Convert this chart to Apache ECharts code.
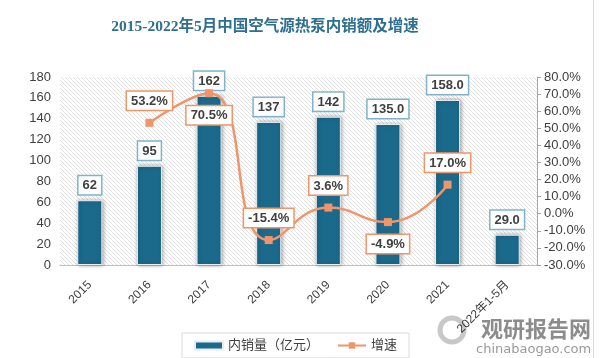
<!DOCTYPE html>
<html>
<head>
<meta charset="utf-8">
<script src="https://cdn.jsdelivr.net/npm/echarts@6/dist/echarts.min.js"></script>
<style>
html,body{margin:0;padding:0;background:#fff;}
#main{width:600px;height:358px;}
</style>
</head>
<body>
<div id="main"></div>
<script>
const categories = ['2015','2016','2017','2018','2019','2020','2021','2022年1-5月'];
const salesValues = [62, 95, 162, 137, 142, 135, 158, 29];
const salesLabels = ['62','95','162','137','142','135.0','158.0','29.0'];
const growthValues = [null, 53.2, 70.5, -15.4, 3.6, -4.9, 17.0, null];
const growthLabelPos = [null, 'top', 'bottom', 'top', 'top', 'bottom', 'top', null];

// hatch pattern
const pc = document.createElement('canvas');
pc.width = 4; pc.height = 4;
const ctx = pc.getContext('2d');
ctx.fillStyle = '#ffffff';
ctx.fillRect(0,0,4,4);
ctx.strokeStyle = '#e2e2e2';
ctx.lineWidth = 1;
for (const k of [-4, 0, 4]) {
  ctx.beginPath(); ctx.moveTo(k, 0); ctx.lineTo(k + 4, 4); ctx.stroke();
}

const chart = echarts.init(document.getElementById('main'));
const barColor = '#1b6a8c';
const lineColor = '#f0946a';

chart.setOption({
  animation: false,
  textStyle: {fontFamily: "'Liberation Sans','Noto Sans CJK SC',sans-serif"},
  title: {
    text: '2015-2022年5月中国空气源热泵内销额及增速',
    left: 260, top: 14, textAlign: 'center',
    textStyle: {fontSize: 15.5, fontWeight: 'bold', color: '#2f6f8f', fontFamily: "'Liberation Serif','Noto Sans CJK SC',serif"}
  },
  grid: {
    left: 60, right: 63, top: 77, bottom: 93,
    show: true, borderWidth: 0,
    backgroundColor: {image: pc, repeat: 'repeat'}
  },
  legend: {
    left: 182, top: 333,
    padding: [6, 12], itemGap: 18,
    borderColor: '#d9d9d9', borderWidth: 1,
    itemWidth: 28, itemHeight: 8,
    textStyle: {fontSize: 13, color: '#404040'},
    data: [
      {name: '内销量（亿元）', icon: 'rect'},
      {name: '增速'}
    ]
  },
  xAxis: {
    type: 'category',
    data: categories,
    axisLine: {lineStyle: {color: '#bfbfbf'}},
    axisTick: {show: false},
    axisLabel: {rotate: 45, fontSize: 12, color: '#404040', margin: 18}
  },
  yAxis: [
    {
      type: 'value', min: 0, max: 180, interval: 20,
      axisLine: {show: false}, axisTick: {show: false}, splitLine: {show: false},
      axisLabel: {fontSize: 13, color: '#404040', margin: 9}
    },
    {
      type: 'value', min: -30, max: 80, interval: 10, alignTicks: false,
      axisLine: {show: true, lineStyle: {color: '#a6a6a6'}},
      axisTick: {show: true, inside: false, length: 4, lineStyle: {color: '#a6a6a6'}},
      splitLine: {show: false},
      axisLabel: {fontSize: 13, color: '#404040', margin: 7, formatter: v => v.toFixed(1) + '%'}
    }
  ],
  series: [
    {
      name: '内销量（亿元）', type: 'bar', yAxisIndex: 0,
      barWidth: '42%',
      data: salesValues,
      itemStyle: {color: barColor, borderColor: '#e8eef2', borderWidth: 1, shadowColor: 'rgba(0,0,0,0.35)', shadowBlur: 4, shadowOffsetX: 1},
      label: {
        show: true, position: 'top', distance: 6,
        formatter: p => salesLabels[p.dataIndex],
        fontSize: 13, fontWeight: 'bold', color: '#404040',
        backgroundColor: '#fff', borderColor: '#7fb3cb', borderWidth: 1.5,
        padding: [3, 4, 2, 4]
      },
      z: 2
    },
    {
      name: '增速', type: 'line', yAxisIndex: 1,
      smooth: true, connectNulls: false,
      symbol: 'rect', symbolSize: 8,
      data: growthValues.map((v, i) => ({
        value: v,
        label: {position: growthLabelPos[i] || 'top'}
      })),
      lineStyle: {color: lineColor, width: 2.5},
      itemStyle: {color: lineColor},
      label: {
        show: true, distance: 9,
        formatter: p => p.value.toFixed(1) + '%',
        fontSize: 13, fontWeight: 'bold', color: '#404040',
        backgroundColor: '#fff', borderColor: '#f0946a', borderWidth: 1.5,
        padding: [3, 4, 2, 4]
      },
      z: 3
    }
  ],
  graphic: [
    {type: 'line', shape: {x1: 593.5, y1: 0, x2: 593.5, y2: 358}, style: {stroke: '#d9d9d9', lineWidth: 1}},
    {type: 'circle', shape: {cx: 452, cy: 330, r: 12}, style: {fill: 'none', stroke: '#c8c8c8', lineWidth: 5}},
    {type: 'text', left: 481, top: 318, style: {text: '观研报告网', fontSize: 22, fontWeight: 'bold', fill: '#8c8c8c', fontFamily: "'Noto Sans CJK SC',sans-serif"}},
    {type: 'text', left: 476, top: 343, style: {text: 'chinabaogao.com', fontSize: 13, fill: '#9a9a9a', fontFamily: "'DejaVu Sans',sans-serif"}}
  ]
});
</script>
</body>
</html>
